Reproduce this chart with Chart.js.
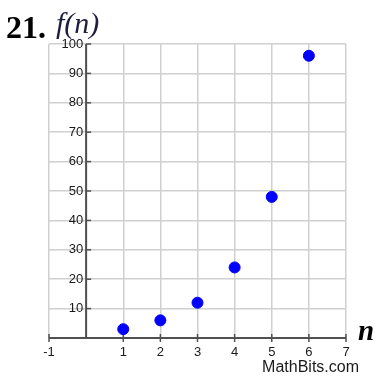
<!DOCTYPE html>
<html>
<head>
<meta charset="utf-8">
<script src="https://cdn.jsdelivr.net/npm/chart.js@4/dist/chart.umd.min.js"></script>
<style>
  html, body { margin: 0; padding: 0; background: #fff; }
  #wrap { width: 375px; height: 378px; }
</style>
</head>
<body>
<div id="wrap"><canvas id="chart" width="375" height="378"></canvas></div>
<script>
// n values and f(n) = 3 * 2^(n-1)
const nValues = [1, 2, 3, 4, 5, 6];
const fValues = [3, 6, 12, 24, 48, 96];

// axis ranges
const xRange = [-1, 7];
const yRange = [0, 100];
const yStep = 10;

const axisColor = '#505050';
const labelColor = '#1a1a1a';
const gridColor = '#d0d0d0';

// draws the axes through the origin, their ticks and labels
const crossAxes = {
    id: 'crossAxes',
    beforeDatasetsDraw(chart) {
        const ctx = chart.ctx;
        const xs = chart.scales.x;
        const ys = chart.scales.y;
        const x0 = xs.getPixelForValue(0);
        const y0 = ys.getPixelForValue(0);

        ctx.save();
        ctx.strokeStyle = axisColor;
        ctx.lineWidth = 2;

        // x axis
        ctx.beginPath();
        ctx.moveTo(xs.left, y0);
        ctx.lineTo(xs.right, y0);
        ctx.stroke();

        // y axis
        ctx.beginPath();
        ctx.moveTo(x0, y0);
        ctx.lineTo(x0, ys.getPixelForValue(yRange[1]));
        ctx.stroke();

        ctx.lineWidth = 1.5;
        ctx.fillStyle = labelColor;
        ctx.font = '13px "Liberation Sans", Arial, sans-serif';

        // x ticks and labels
        ctx.textAlign = 'center';
        ctx.textBaseline = 'middle';
        xs.ticks.forEach(t => {
            if (t.value === 0) return;
            const px = xs.getPixelForValue(t.value);
            ctx.beginPath();
            ctx.moveTo(px, y0 - 4);
            ctx.lineTo(px, y0 + 4);
            ctx.stroke();
            ctx.fillText(String(t.value), px, y0 + 14);
        });

        // y ticks and labels
        ctx.textAlign = 'right';
        ys.ticks.forEach(t => {
            if (t.value === 0) return;
            const py = ys.getPixelForValue(t.value);
            ctx.beginPath();
            ctx.moveTo(x0, py);
            ctx.lineTo(x0 + 5, py);
            ctx.stroke();
            ctx.fillText(String(t.value), x0 - 3, py);
        });
        ctx.restore();
    },
    afterDraw(chart) {
        const ctx = chart.ctx;
        const xs = chart.scales.x;
        const y0 = chart.scales.y.getPixelForValue(0);
        ctx.save();
        ctx.textBaseline = 'alphabetic';
        ctx.textAlign = 'left';

        ctx.fillStyle = '#000';
        ctx.font = 'bold 32px "Liberation Serif", "Times New Roman", serif';
        ctx.fillText('21.', 6, 38);

        ctx.fillStyle = '#1e1e3c';
        ctx.font = 'italic 30px "Liberation Serif", "Times New Roman", serif';
        ctx.fillText('f(n)', 56, 33);

        ctx.fillStyle = '#000';
        ctx.font = 'bold italic 29px "Liberation Serif", "Times New Roman", serif';
        ctx.fillText('n', xs.right + 12, y0 + 2);

        ctx.fillStyle = labelColor;
        ctx.font = '16px "Liberation Sans", Arial, sans-serif';
        ctx.textAlign = 'right';
        ctx.fillText('MathBits.com', 359, 372);
        ctx.restore();
    }
};

new Chart(document.getElementById('chart'), {
    type: 'scatter',
    data: {
        datasets: [{
            data: nValues.map((n, i) => ({ x: n, y: fValues[i] })),
            backgroundColor: '#0000ff',
            borderColor: '#0000ff',
            pointRadius: 5.5,
            pointHoverRadius: 5.5
        }]
    },
    options: {
        responsive: false,
        animation: false,
        devicePixelRatio: 1,
        layout: { padding: { left: 49, right: 29, top: 44, bottom: 40 } },
        plugins: {
            legend: { display: false },
            tooltip: { enabled: false }
        },
        scales: {
            x: {
                type: 'linear',
                min: xRange[0],
                max: xRange[1],
                ticks: { stepSize: 1, display: false },
                grid: { color: gridColor, lineWidth: 1.5, drawTicks: false },
                border: { display: false }
            },
            y: {
                type: 'linear',
                min: yRange[0],
                max: yRange[1],
                ticks: { stepSize: yStep, display: false },
                grid: { color: gridColor, lineWidth: 1.5, drawTicks: false },
                border: { display: false }
            }
        }
    },
    plugins: [crossAxes]
});
</script>
</body>
</html>
